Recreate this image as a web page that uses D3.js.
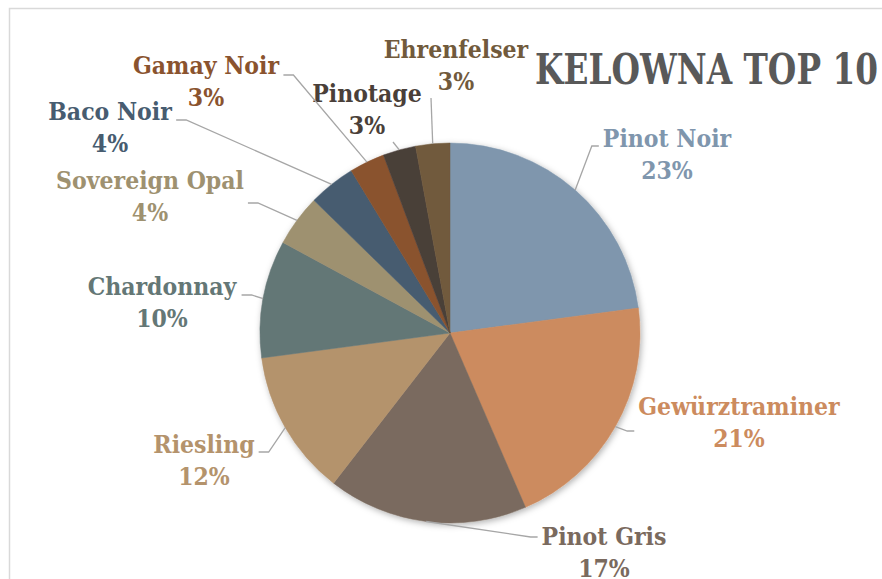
<!DOCTYPE html>
<html>
<head>
<meta charset="utf-8">
<script src="https://cdn.jsdelivr.net/npm/d3@7"></script>
<style>
  body { margin: 0; background: #fff; }
  svg { display: block; }
  .lbl { font-family: "DejaVu Serif Condensed", "DejaVu Serif", serif; font-weight: bold; font-size: 24.5px; }
</style>
</head>
<body>
<svg id="chart" width="882" height="579"></svg>
<script>
// varieties, clockwise from 12 o'clock
const varieties = ['Pinot Noir', 'Gewürztraminer', 'Pinot Gris', 'Riesling', 'Chardonnay',
  'Sovereign Opal', 'Baco Noir', 'Gamay Noir', 'Pinotage', 'Ehrenfelser']
const shares = [22.9, 20.6, 17.0, 12.4, 10.0, 4.4, 4.0, 3.0, 2.8, 2.9]
const colors = ['#7f96ad', '#cc8b5e', '#7a6a5e', '#b4936c', '#647776',
  '#9e9170', '#475c70', '#8a532e', '#4a3f39', '#715a3c']

const title = 'KELOWNA TOP 10'

// label placement: [centre x, name baseline, side, attach y]
// side: 'L' label left of pie, 'R' right of pie, 'T' leader goes up under the %
const labelLayout = [
  [667, 147, 'R', 146],
  [739, 415, 'R', 431],
  [604, 545, 'R', 537],
  [204, 453, 'L', 452],
  [162, 295, 'L', 295],
  [150, 189, 'L', 203],
  [110, 120, 'L', 120],
  [206, 74, 'L', 75],
  [367, 102, 'T', 0],
  [456, 58, 'T', 0]
]

const svg = d3.select('#chart')
const cx = 450
const cy = 333
const r = 190

// chart frame (runs off the right/bottom edge)
svg.append('rect')
  .attr('x', 9.5).attr('y', 8.5)
  .attr('width', 900).attr('height', 600)
  .style('fill', 'none')
  .style('stroke', '#d9d9d9')
  .style('stroke-width', 1.5)

const defs = svg.append('defs')
const f = defs.append('filter').attr('id', 'shadow')
  .attr('x', '-10%').attr('y', '-10%').attr('width', '120%').attr('height', '120%')
f.append('feDropShadow')
  .attr('dx', 1.5).attr('dy', 2)
  .attr('stdDeviation', 3)
  .attr('flood-color', '#000')
  .attr('flood-opacity', 0.3)

const pie = d3.pie().sort(null).value(d => d)
const arcs = pie(shares)
const arc = d3.arc().innerRadius(0).outerRadius(r)

const g = svg.append('g').attr('transform', `translate(${cx},${cy})`)

g.append('g')
  .attr('filter', 'url(#shadow)')
  .selectAll('path')
  .data(arcs)
  .enter()
  .append('path')
  .attr('d', arc)
  .style('fill', (d, i) => colors[i])
  .style('stroke', (d, i) => colors[i])
  .style('stroke-width', 0.5)

// labels
const total = d3.sum(shares)
const labels = svg.append('g')
const lineG = svg.append('g')

arcs.forEach((a, i) => {
  const [lx, ly, side, ay] = labelLayout[i]
  const t = labels.append('text')
    .classed('lbl', true)
    .attr('text-anchor', 'middle')
    .style('fill', colors[i])
  t.append('tspan').attr('x', lx).attr('y', ly).text(varieties[i])
  t.append('tspan').attr('x', lx).attr('y', ly + 32)
    .text(Math.round(shares[i] / total * 100) + '%')

  const bb = t.node().getBBox()
  const mid = (a.startAngle + a.endAngle) / 2
  const p0 = [cx + r * Math.sin(mid), cy - r * Math.cos(mid)]
  let pts
  if (side === 'T') {
    // straight leader up to just under the percentage
    const off = i === 8 ? 26 : -25
    pts = [p0, [lx + off, bb.y + bb.height + 2]]
  } else if (side === 'L') {
    const ex = bb.x + bb.width + 4
    pts = [p0, [ex + 10, ay], [ex, ay]]
  } else {
    const ex = bb.x - 4
    pts = [p0, [ex - 7, ay], [ex, ay]]
  }
  lineG.append('path')
    .attr('d', d3.line()(pts))
    .style('fill', 'none')
    .style('stroke', '#a6a6a6')
    .style('stroke-width', 1.3)
})

svg.append('text')
  .attr('x', 535)
  .attr('y', 84)
  .attr('textLength', 343)
  .attr('lengthAdjust', 'spacingAndGlyphs')
  .style('font-family', '"DejaVu Serif", serif')
  .style('font-weight', 'bold')
  .style('font-size', '42px')
  .style('fill', '#595959')
  .text(title)
</script>
</body>
</html>
